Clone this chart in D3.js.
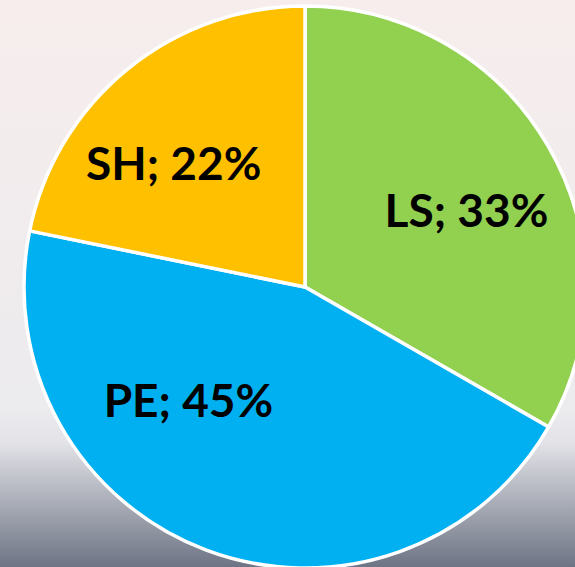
<!DOCTYPE html>
<html>
<head>
<meta charset="utf-8">
<script src="https://cdn.jsdelivr.net/npm/d3@7/dist/d3.min.js"></script>
<style>
  html, body { margin: 0; padding: 0; overflow: hidden; }
  svg { display: block; }
</style>
</head>
<body>
<div id="chart"></div>
<script>
// slice data (clockwise from 12 o'clock)
var categories = ['LS', 'PE', 'SH'];
var shares = [33.3, 44.9, 21.8];
var percentLabels = ['33%', '45%', '22%'];
var sliceColors = ['#92d050', '#00b0f0', '#ffc000'];

var width = 575, height = 567;
var cx = 305, cy = 287, radius = 281;

// label nudges relative to each slice centroid (layout only)
var labelShift = [[1, 33], [-51, -43], [-14, 37]];

var svg = d3.select('#chart').append('svg')
    .attr('width', width)
    .attr('height', height);

var defs = svg.append('defs');
var grad = defs.append('linearGradient')
    .attr('id', 'bg')
    .attr('x1', 0).attr('y1', 0)
    .attr('x2', 0).attr('y2', 1);
grad.append('stop').attr('offset', '0').attr('stop-color', '#f7eded');
grad.append('stop').attr('offset', '0.72').attr('stop-color', '#ecebee');
grad.append('stop').attr('offset', '0.78').attr('stop-color', '#e3e3e8');
grad.append('stop').attr('offset', '1').attr('stop-color', '#6d7484');

svg.append('rect')
    .attr('width', width)
    .attr('height', height)
    .attr('fill', 'url(#bg)');

var data = categories.map(function (c, i) {
    return { name: c, value: shares[i], pct: percentLabels[i], color: sliceColors[i] };
});

var pie = d3.pie()
    .sort(null)
    .value(function (d) { return d.value; });

var arc = d3.arc()
    .innerRadius(0)
    .outerRadius(radius);

var labelArc = d3.arc()
    .innerRadius(radius * 0.66)
    .outerRadius(radius * 0.66);

var g = svg.append('g')
    .attr('transform', 'translate(' + cx + ',' + cy + ')');

var arcs = pie(data);

g.selectAll('path.slice')
    .data(arcs)
    .enter().append('path')
        .attr('class', 'slice')
        .attr('d', arc)
        .attr('fill', function (d) { return d.data.color; })
        .attr('stroke', '#ffffff')
        .attr('stroke-width', 3.5)
        .attr('stroke-linejoin', 'round');

g.selectAll('text.lbl')
    .data(arcs)
    .enter().append('text')
        .attr('class', 'lbl')
        .attr('transform', function (d, i) {
            var c = labelArc.centroid(d);
            return 'translate(' + (c[0] + labelShift[i][0]) + ',' + (c[1] + labelShift[i][1]) + ')';
        })
        .attr('text-anchor', 'middle')
        .attr('font-family', 'Lato, "Open Sans", sans-serif')
        .attr('font-weight', 700)
        .attr('font-size', 46)
        .attr('fill', '#000000')
        .text(function (d) { return d.data.name + '; ' + d.data.pct; });
</script>
</body>
</html>
